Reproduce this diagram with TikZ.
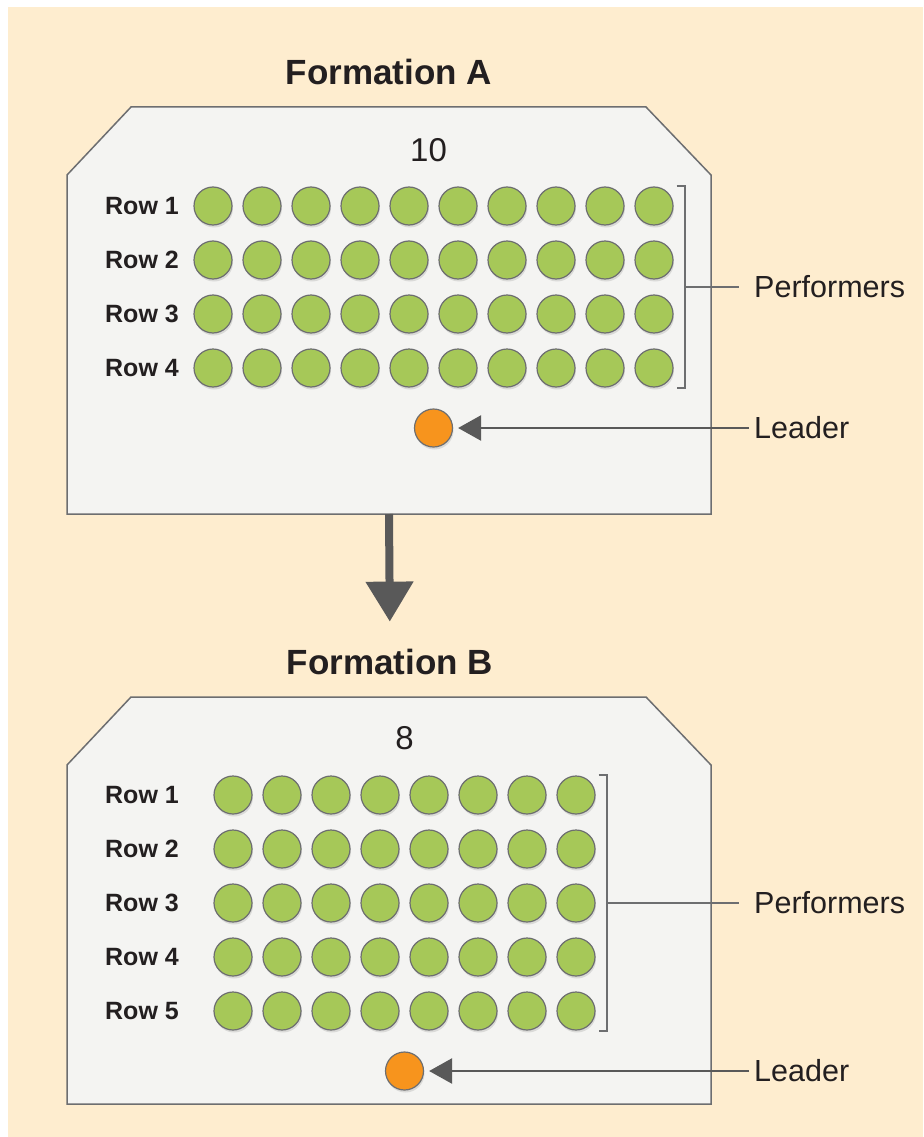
\documentclass[tikz,border=0pt]{standalone}
\usepackage{fontspec}
\setmainfont{Liberation Sans}
\usetikzlibrary{calc,arrows.meta,shadows}

\definecolor{bgbeige}{HTML}{FEEDCF}
\definecolor{stagefill}{HTML}{F4F4F2}
\definecolor{stageline}{HTML}{6D6E70}
\definecolor{perfgreen}{HTML}{A6C858}
\definecolor{leadorange}{HTML}{F7941D}
\definecolor{arrowgray}{HTML}{595959}
\definecolor{txtdark}{HTML}{231F20}

\tikzset{
	performer/.style={circle,draw=stageline,line width=1.2pt,fill=perfgreen,minimum size=38pt,inner sep=0pt,
		drop shadow={opacity=0.22,shadow xshift=1pt,shadow yshift=-2.5pt}},
	leader/.style={performer,fill=leadorange},
	rowlabel/.style={anchor=east,inner sep=0pt,text=txtdark,font=\fontsize{25}{29}\selectfont\bfseries},
	formtitle/.style={text=txtdark,font=\fontsize{35}{40}\selectfont\bfseries},
	count/.style={text=txtdark,font=\fontsize{33}{38}\selectfont},
	callout/.style={anchor=west,inner xsep=5pt,inner ysep=0pt,text=txtdark,font=\fontsize{30.5}{35}\selectfont},
	stage/.style={draw=stageline,line width=1.5pt,fill=stagefill},
	bracket/.style={draw=stageline,line width=2pt},
	pointer/.style={draw=arrowgray,line width=2.5pt,-{Triangle[length=23pt,width=25pt]},shorten >=5pt},
	bigarrow/.style={draw=arrowgray,line width=8pt,-{Triangle[length=40pt,width=46pt]}}
}

\begin{document}
\begin{tikzpicture}[x=1pt,y=-1pt]
	\useasboundingbox (0,0) rectangle (923,1137);
	\fill[bgbeige] (8,7) rectangle (923,1137);
	
	\coordinate (labx) at (179,0);
	\coordinate (callx) at (749,0);
	
	%stages
	\draw[stage] (67,175) -- (131,107) -- (646,107) -- (711,175) -- (711,514) -- (67,514) -- cycle;
	\draw[stage] (67,765) -- (131,697) -- (646,697) -- (711,765) -- (711,1104) -- (67,1104) -- cycle;
	\coordinate (abot) at (389,514);
	
	\node[formtitle] (titleA) at (389,72) {Formation A};
	\node[formtitle] (titleB) at (390,662) {Formation B};
	
	%formation A
	\foreach \c in {1,...,10}
		\foreach \r in {1,...,4}
			\node[performer] (a\r-\c) at ({213+49*(\c-1)},{206+54*(\r-1)}) {};
	\foreach \r in {1,...,4}
		\node[rowlabel] (rowa\r) at (labx |- a\r-1) {Row \r};
	\node[count] (cntA) at ($(a1-5)!0.5!(a1-6)+(-5,-56)$) {10};
	\node[leader] (ldrA) at ($(a4-5)!0.5!(a4-6)+(0,60)$) {};
	
	\coordinate (brA1) at ($(a1-10.east |- a1-10.north)+(3,0)$);
	\coordinate (brA2) at ($(a4-10.east |- a4-10.south)+(3,0)$);
	\coordinate (brAm) at ($(brA1)!0.5!(brA2)+(8,0)$);
	\node[callout] (perfA) at (callx |- brAm) {Performers};
	\node[callout] (leadA) at (callx |- ldrA) {Leader};
	
	\draw[bracket] (brA1) -- ++(8,0) -- ($(brA2)+(8,0)$) -- (brA2);
	\draw[bracket] (brAm) -- ($(perfA.west)+(-10,0)$);
	\draw[pointer] (leadA.west) -- (ldrA.east);
	
	\draw[bigarrow] (abot) -- (titleB.north) [shorten >=24pt];
	
	%formation B
	\foreach \c in {1,...,8}
		\foreach \r in {1,...,5}
			\node[performer] (b\r-\c) at ({233+49*(\c-1)},{795+54*(\r-1)}) {};
	\foreach \r in {1,...,5}
		\node[rowlabel] (rowb\r) at (labx |- b\r-1) {Row \r};
	\node[count] (cntB) at ($(b1-4)!0.5!(b1-5)+(0,-57)$) {8};
	\node[leader] (ldrB) at ($(b5-4)!0.5!(b5-5)+(0,60)$) {};
	
	\coordinate (brB1) at ($(b1-8.east |- b1-8.north)+(3,0)$);
	\coordinate (brB2) at ($(b5-8.east |- b5-8.south)+(3,0)$);
	\coordinate (brBm) at ($(brB1)!0.5!(brB2)+(8,0)$);
	\node[callout] (perfB) at (callx |- brBm) {Performers};
	\node[callout] (leadB) at (callx |- ldrB) {Leader};
	
	\draw[bracket] (brB1) -- ++(8,0) -- ($(brB2)+(8,0)$) -- (brB2);
	\draw[bracket] (brBm) -- ($(perfB.west)+(-10,0)$);
	\draw[pointer] (leadB.west) -- (ldrB.east);
\end{tikzpicture}
\end{document}
